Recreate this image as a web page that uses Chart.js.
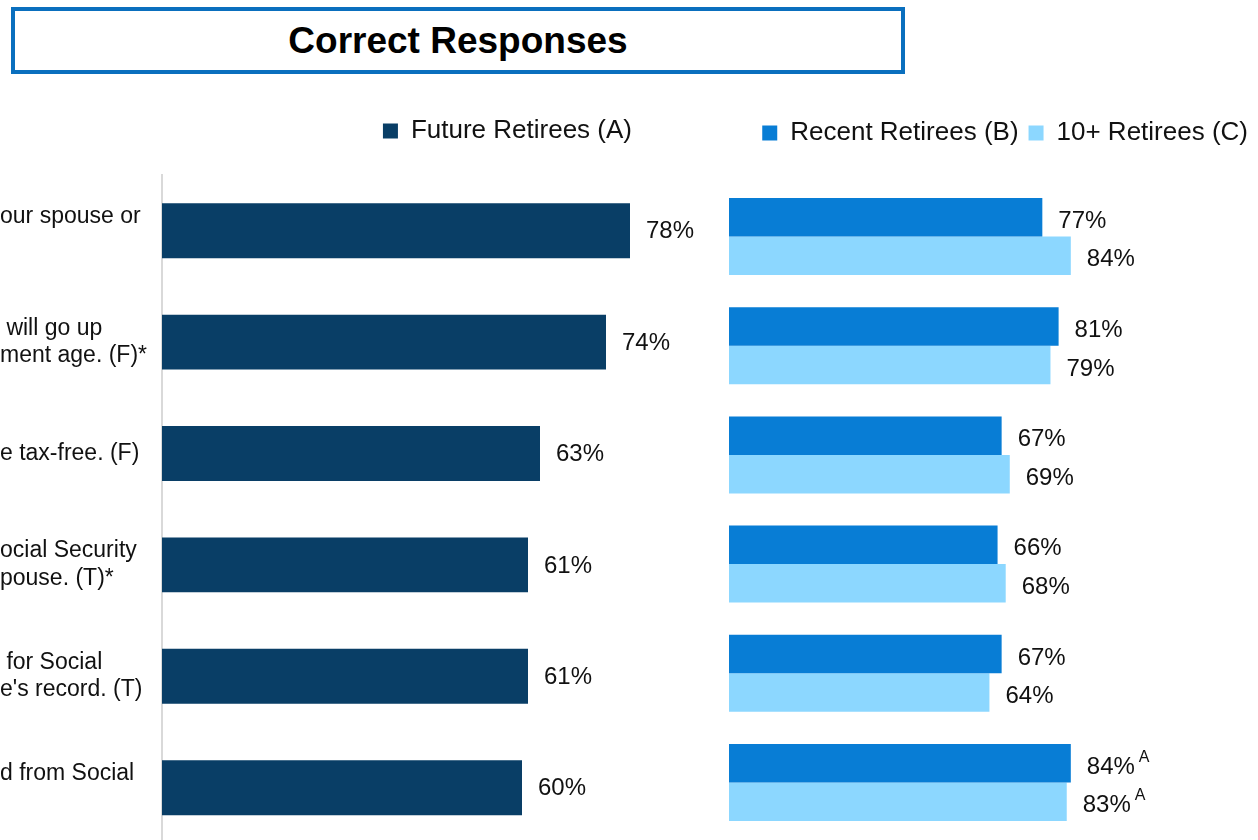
<!DOCTYPE html>
<html><head><meta charset="utf-8">
<script src="https://cdn.jsdelivr.net/npm/chart.js@4.4.1/dist/chart.umd.min.js"></script>
<style>
html,body{margin:0;padding:0;background:#fff;overflow:hidden;width:1258px;height:840px;}
#title{position:absolute;left:11px;top:7px;width:894px;height:67px;box-sizing:border-box;border:4px solid #0A6FBE;font:bold 37px "Liberation Sans",Arial,sans-serif;color:#000;display:flex;align-items:center;justify-content:center;}
#wl{position:absolute;left:0;top:108px;width:702px;height:785px;}
#wr{position:absolute;left:729px;top:110px;width:529px;height:727px;}
</style></head><body>
<div id="title">Correct Responses</div>
<div id="wl"><canvas id="cl"></canvas></div>
<div id="wr"><canvas id="cr"></canvas></div>
<script>
// Category labels (as visible in the cropped reference)
const categories = [
  ["our spouse or", ""],
  [" will go up", "ment age. (F)*"],
  ["e tax-free. (F)"],
  ["ocial Security", "pouse. (T)*"],
  [" for Social", "e's record. (T)"],
  ["d from Social", ""]
];
const seriesNames = ["Future Retirees (A)", "Recent Retirees (B)", "10+ Retirees (C)"];
const futureRetirees = [78, 74, 63, 61, 61, 60];
const recentRetirees = [77, 81, 67, 66, 67, 84];
const tenPlusRetirees = [84, 79, 69, 68, 64, 83];
const recentSig = ["", "", "", "", "", "A"];
const tenPlusSig = ["", "", "", "", "", "A"];

const FONT = '"Liberation Sans", Arial, sans-serif';
const COL_A = '#093E66', COL_B = '#087DD5', COL_C = '#8CD7FF';

const valueLabels = {
  id: 'valueLabels',
  afterDatasetsDraw(chart, args, opts) {
    const ctx = chart.ctx;
    const dy = opts.dy || 0;
    ctx.save();
    chart.data.datasets.forEach((ds, i) => {
      const meta = chart.getDatasetMeta(i);
      meta.data.forEach((bar, j) => {
        const txt = ds.data[j] + '%';
        ctx.font = '24px ' + FONT;
        ctx.fillStyle = '#111';
        ctx.textAlign = 'left';
        ctx.textBaseline = 'middle';
        const x = bar.x + 16, y = bar.y + dy;
        ctx.fillText(txt, x, y);
        const sup = ds.sig ? ds.sig[j] : '';
        if (sup) {
          const w = ctx.measureText(txt).width;
          ctx.font = '16px ' + FONT;
          ctx.fillText(sup, x + w + 4, y - 10);
        }
      });
    });
    ctx.restore();
  }
};

const legendOpts = (align) => ({
  display: true, position: 'top', align: align,
  labels: { boxWidth: 15, boxHeight: 15, padding: 10, color: '#111', font: { size: 26, family: FONT } }
});
const spacer = (h) => ({ display: true, text: '', weight: 500, font: { size: 1, lineHeight: 1 }, padding: { top: 0, bottom: h } });

new Chart(document.getElementById('cl'), {
  type: 'bar',
  data: {
    labels: categories,
    datasets: [{ label: seriesNames[0], data: futureRetirees, backgroundColor: COL_A, borderWidth: 0,
      barPercentage: 0.4925, categoryPercentage: 1 }]
  },
  options: {
    indexAxis: 'y', responsive: true, maintainAspectRatio: false, animation: false,
    layout: { padding: { left: 0, right: 60, top: 0, bottom: 0 } },
    plugins: { legend: legendOpts('end'), title: spacer(20), tooltip: { enabled: false }, valueLabels: { dy: 1 } },
    scales: {
      x: { display: false, min: 0, max: 80 },
      y: {
        afterFit: (s) => { s.width = 162; },
        grid: { display: false, drawTicks: false },
        border: { display: true, color: '#D9D9D9', width: 2 },
        ticks: { crossAlign: 'far', padding: 22, color: '#111', font: { size: 23, family: FONT, lineHeight: 1.2 } }
      }
    }
  },
  plugins: [valueLabels]
});

new Chart(document.getElementById('cr'), {
  type: 'bar',
  data: {
    labels: categories,
    datasets: [
      { label: seriesNames[1], data: recentRetirees, sig: recentSig, backgroundColor: COL_B, borderWidth: 0,
        barPercentage: 1, categoryPercentage: 0.706 },
      { label: seriesNames[2], data: tenPlusRetirees, sig: tenPlusSig, backgroundColor: COL_C, borderWidth: 0,
        barPercentage: 1, categoryPercentage: 0.706 }
    ]
  },
  options: {
    indexAxis: 'y', responsive: true, maintainAspectRatio: false, animation: false,
    layout: { padding: 0 },
    plugins: { legend: legendOpts('end'), title: spacer(25), tooltip: { enabled: false }, valueLabels: { dy: 4 } },
    scales: {
      x: { display: false, min: 0, max: 130 },
      y: { display: false }
    }
  },
  plugins: [valueLabels]
});
</script>
</body></html>
